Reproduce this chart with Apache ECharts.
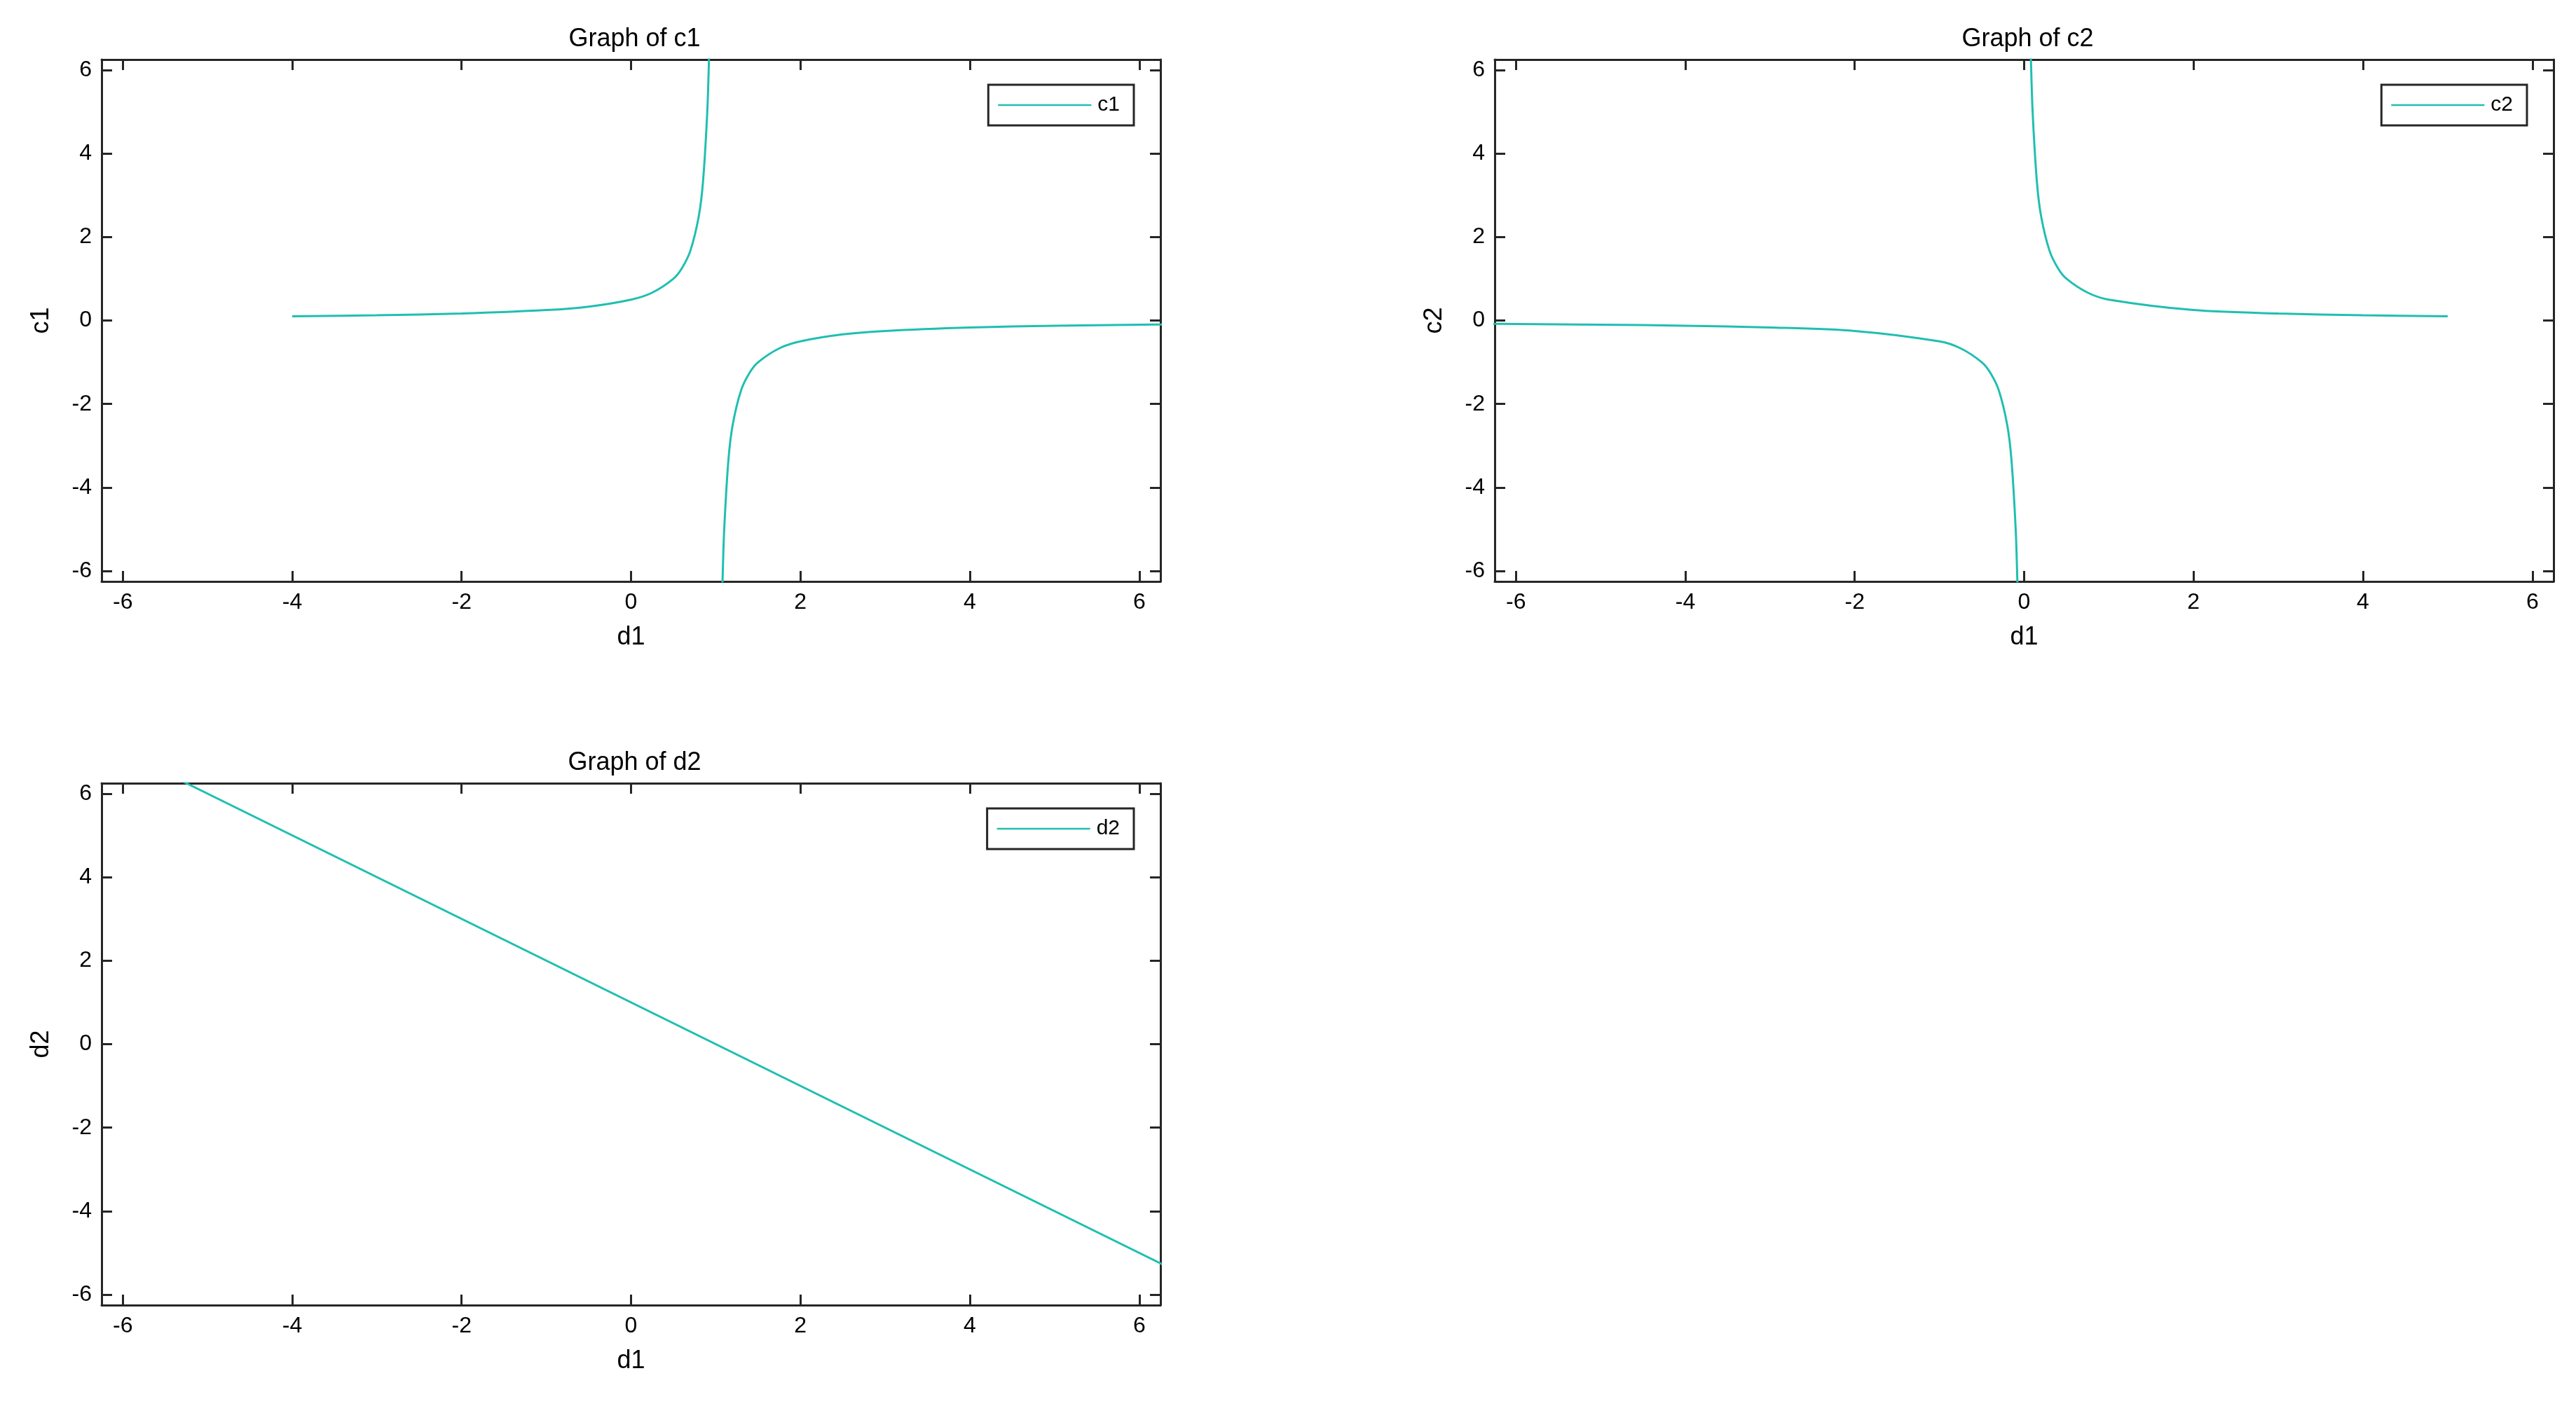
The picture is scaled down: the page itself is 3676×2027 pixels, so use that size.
<!DOCTYPE html>
<html><head><meta charset="utf-8">
<script src="https://cdn.jsdelivr.net/npm/echarts@6/dist/echarts.min.js"></script>
<style>html,body{margin:0;background:#fff}#c{width:3676px;height:2027px}</style>
</head><body><div id="c"></div>
<script>
// values
var c1Left = [[-4,0.1],[-3,0.125],[-2,0.167],[-1,0.25],[-0.5,0.333],[0,0.5],[0.25,0.667],[0.5,1],[0.6,1.25],[0.7,1.667],[0.8,2.5],[0.85,3.333],[0.9,5],[0.92,6.25],[0.93,7.1]];
var c1Right = [[1.07,-7.1],[1.08,-6.25],[1.1,-5],[1.15,-3.333],[1.2,-2.5],[1.3,-1.667],[1.4,-1.25],[1.5,-1],[1.75,-0.667],[2,-0.5],[2.5,-0.333],[3,-0.25],[4,-0.167],[5,-0.125],[6,-0.1],[6.4,-0.094]];
var c2Left = [[-6.4,-0.078],[-6,-0.083],[-5,-0.1],[-4,-0.125],[-3,-0.167],[-2,-0.25],[-1,-0.5],[-0.75,-0.667],[-0.5,-1],[-0.4,-1.25],[-0.3,-1.667],[-0.2,-2.5],[-0.15,-3.333],[-0.1,-5],[-0.08,-6.25],[-0.07,-7.1]];
var c2Right = [[0.07,7.1],[0.08,6.25],[0.1,5],[0.15,3.333],[0.2,2.5],[0.3,1.667],[0.4,1.25],[0.5,1],[0.75,0.667],[1,0.5],[2,0.25],[3,0.167],[4,0.125],[5,0.1]];
var d2Line = [[-5.3,6.3],[6.4,-5.4]];
var ticks = [-6,-4,-2,0,2,4,6];
var titles = ['Graph of c1','Graph of c2','Graph of d2'];
var yNames = ['c1','c2','d2'];

var col = '#1fbfb0', ink = '#262626';
var grids = [
  {left:145, top:85, width:1511, height:745},
  {left:2133, top:85, width:1511, height:745},
  {left:145, top:1118, width:1511, height:745}
];
var xAxis = [], yAxis = [], series = [], legend = [], title = [];
function ax(gi, pos, labels, name) {
  return {
    type:'value', gridIndex:gi, position:pos, min:-6.25, max:6.25,
    name:name||'', nameLocation:'middle', nameGap:55,
    nameTextStyle:{fontSize:36, color:'#000', fontFamily:'Liberation Sans'},
    axisLine:{show:true, onZero:false, lineStyle:{color:ink, width:3}},
    axisTick:{show:true, inside:true, length:15, customValues:ticks, lineStyle:{color:ink, width:3}},
    axisLabel:{show:labels, customValues:ticks, fontSize:32, color:'#000', fontFamily:'Liberation Sans', margin:14},
    splitLine:{show:false}
  };
}
var data = [[c1Left, c1Right], [c2Left, c2Right], [d2Line]];
grids.forEach(function (g, i) {
  var x = ax(i, 'bottom', true, 'd1'); x.nameGap = 62;
  var y = ax(i, 'left', true, yNames[i]); y.nameGap = 68;
  xAxis.push(x, ax(i, 'top', false));
  yAxis.push(y, ax(i, 'right', false));
  data[i].forEach(function (d) {
    series.push({type:'line', name:yNames[i], xAxisIndex:2*i, yAxisIndex:2*i, data:d,
      smooth:0.3, showSymbol:false, clip:true, lineStyle:{color:col, width:3}, itemStyle:{color:col}});
  });
  legend.push({data:[yNames[i]], right:3676 - g.left - g.width + 38, top:g.top + 36,
    borderColor:ink, borderWidth:3, padding:[14,20,14,14], itemWidth:133, itemHeight:20, itemGap:0,
    icon:'path://M0,9 L100,9 L100,11 L0,11 Z',
    textStyle:{fontSize:30, color:'#000', fontFamily:'Liberation Sans', padding:[0,0,0,4]}});
  title.push({text:titles[i], left:g.left + g.width / 2, textAlign:'center', top:g.top - 52,
    textStyle:{fontSize:36, fontWeight:'normal', color:'#000', fontFamily:'Liberation Sans'}});
});
var chart = echarts.init(document.getElementById('c'));
chart.setOption({animation:false, backgroundColor:'#fff', grid:grids, xAxis:xAxis, yAxis:yAxis,
  series:series, legend:legend, title:title});
</script></body></html>
